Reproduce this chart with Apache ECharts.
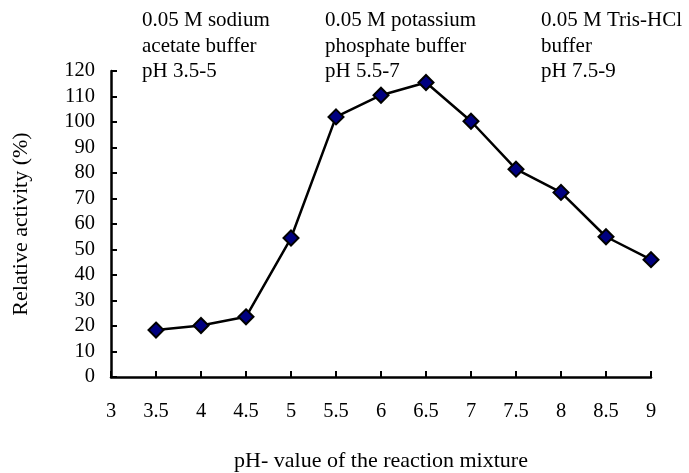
<!DOCTYPE html>
<html>
<head>
<meta charset="utf-8">
<script src="https://cdn.jsdelivr.net/npm/echarts@6/dist/echarts.min.js"></script>
<style>
  html, body { margin: 0; padding: 0; background: #fff; }
  #chart { width: 689px; height: 473px; }
</style>
</head>
<body>
<div id="chart"></div>
<script>
// pH of the reaction mixture and the measured relative activity (%)
const phValues = [3.5, 4, 4.5, 5, 5.5, 6, 6.5, 7, 7.5, 8, 8.5, 9];
const relativeActivity = [18.4, 20.2, 23.6, 54.5, 102, 110.5, 115.5, 100.3, 81.5, 72.4, 55, 46];

// Buffer systems used across the pH range
const bufferNotes = [
  ['0.05 M sodium', 'acetate buffer', 'pH 3.5-5'],
  ['0.05 M potassium', 'phosphate buffer', 'pH 5.5-7'],
  ['0.05 M Tris-HCl', 'buffer', 'pH 7.5-9']
];
const notePositions = [142, 325, 541];

const FONT = '"Liberation Serif", "Times New Roman", serif';

const chart = echarts.init(document.getElementById('chart'), null, { renderer: 'canvas' });

const points = phValues.map((x, i) => [x, relativeActivity[i]]);

chart.setOption({
  animation: false,
  backgroundColor: '#ffffff',
  grid: {
    left: 111, right: 38, top: 71, bottom: 96,
    containLabel: false,
    outerBoundsMode: 'none'
  },
  xAxis: {
    type: 'value',
    min: 3, max: 9, interval: 0.5,
    name: 'pH- value of the reaction mixture',
    nameLocation: 'middle',
    nameGap: 73,
    nameTextStyle: { fontFamily: FONT, fontSize: 22, color: '#000' },
    axisLine: { show: true, onZero: false, lineStyle: { color: '#000', width: 2.5 } },
    axisTick: { show: true, inside: true, length: 6, lineStyle: { color: '#000', width: 2 } },
    axisLabel: { fontFamily: FONT, fontSize: 20.5, color: '#000', margin: 24 },
    splitLine: { show: false }
  },
  yAxis: {
    type: 'value',
    min: 0, max: 120, interval: 10,
    name: 'Relative activity (%)',
    nameLocation: 'middle',
    nameGap: 79,
    nameRotate: 90,
    nameTextStyle: { fontFamily: FONT, fontSize: 22, color: '#000' },
    axisLine: { show: true, lineStyle: { color: '#000', width: 2.5 } },
    axisTick: { show: true, inside: true, length: 6, lineStyle: { color: '#000', width: 2 } },
    axisLabel: { fontFamily: FONT, fontSize: 20.5, color: '#000', margin: 16 },
    splitLine: { show: false }
  },
  graphic: bufferNotes.map((lines, i) => ({
    type: 'text',
    left: notePositions[i],
    top: 8,
    style: {
      text: lines.join('\n'),
      font: '21px ' + FONT,
      fill: '#000',
      lineHeight: 25.5
    }
  })),
  series: [{
    type: 'line',
    data: points,
    symbol: 'diamond',
    symbolSize: 15,
    lineStyle: { color: '#000', width: 2.5 },
    itemStyle: { color: '#000080', borderColor: '#000', borderWidth: 2 },
    z: 3
  }]
});
</script>
</body>
</html>
